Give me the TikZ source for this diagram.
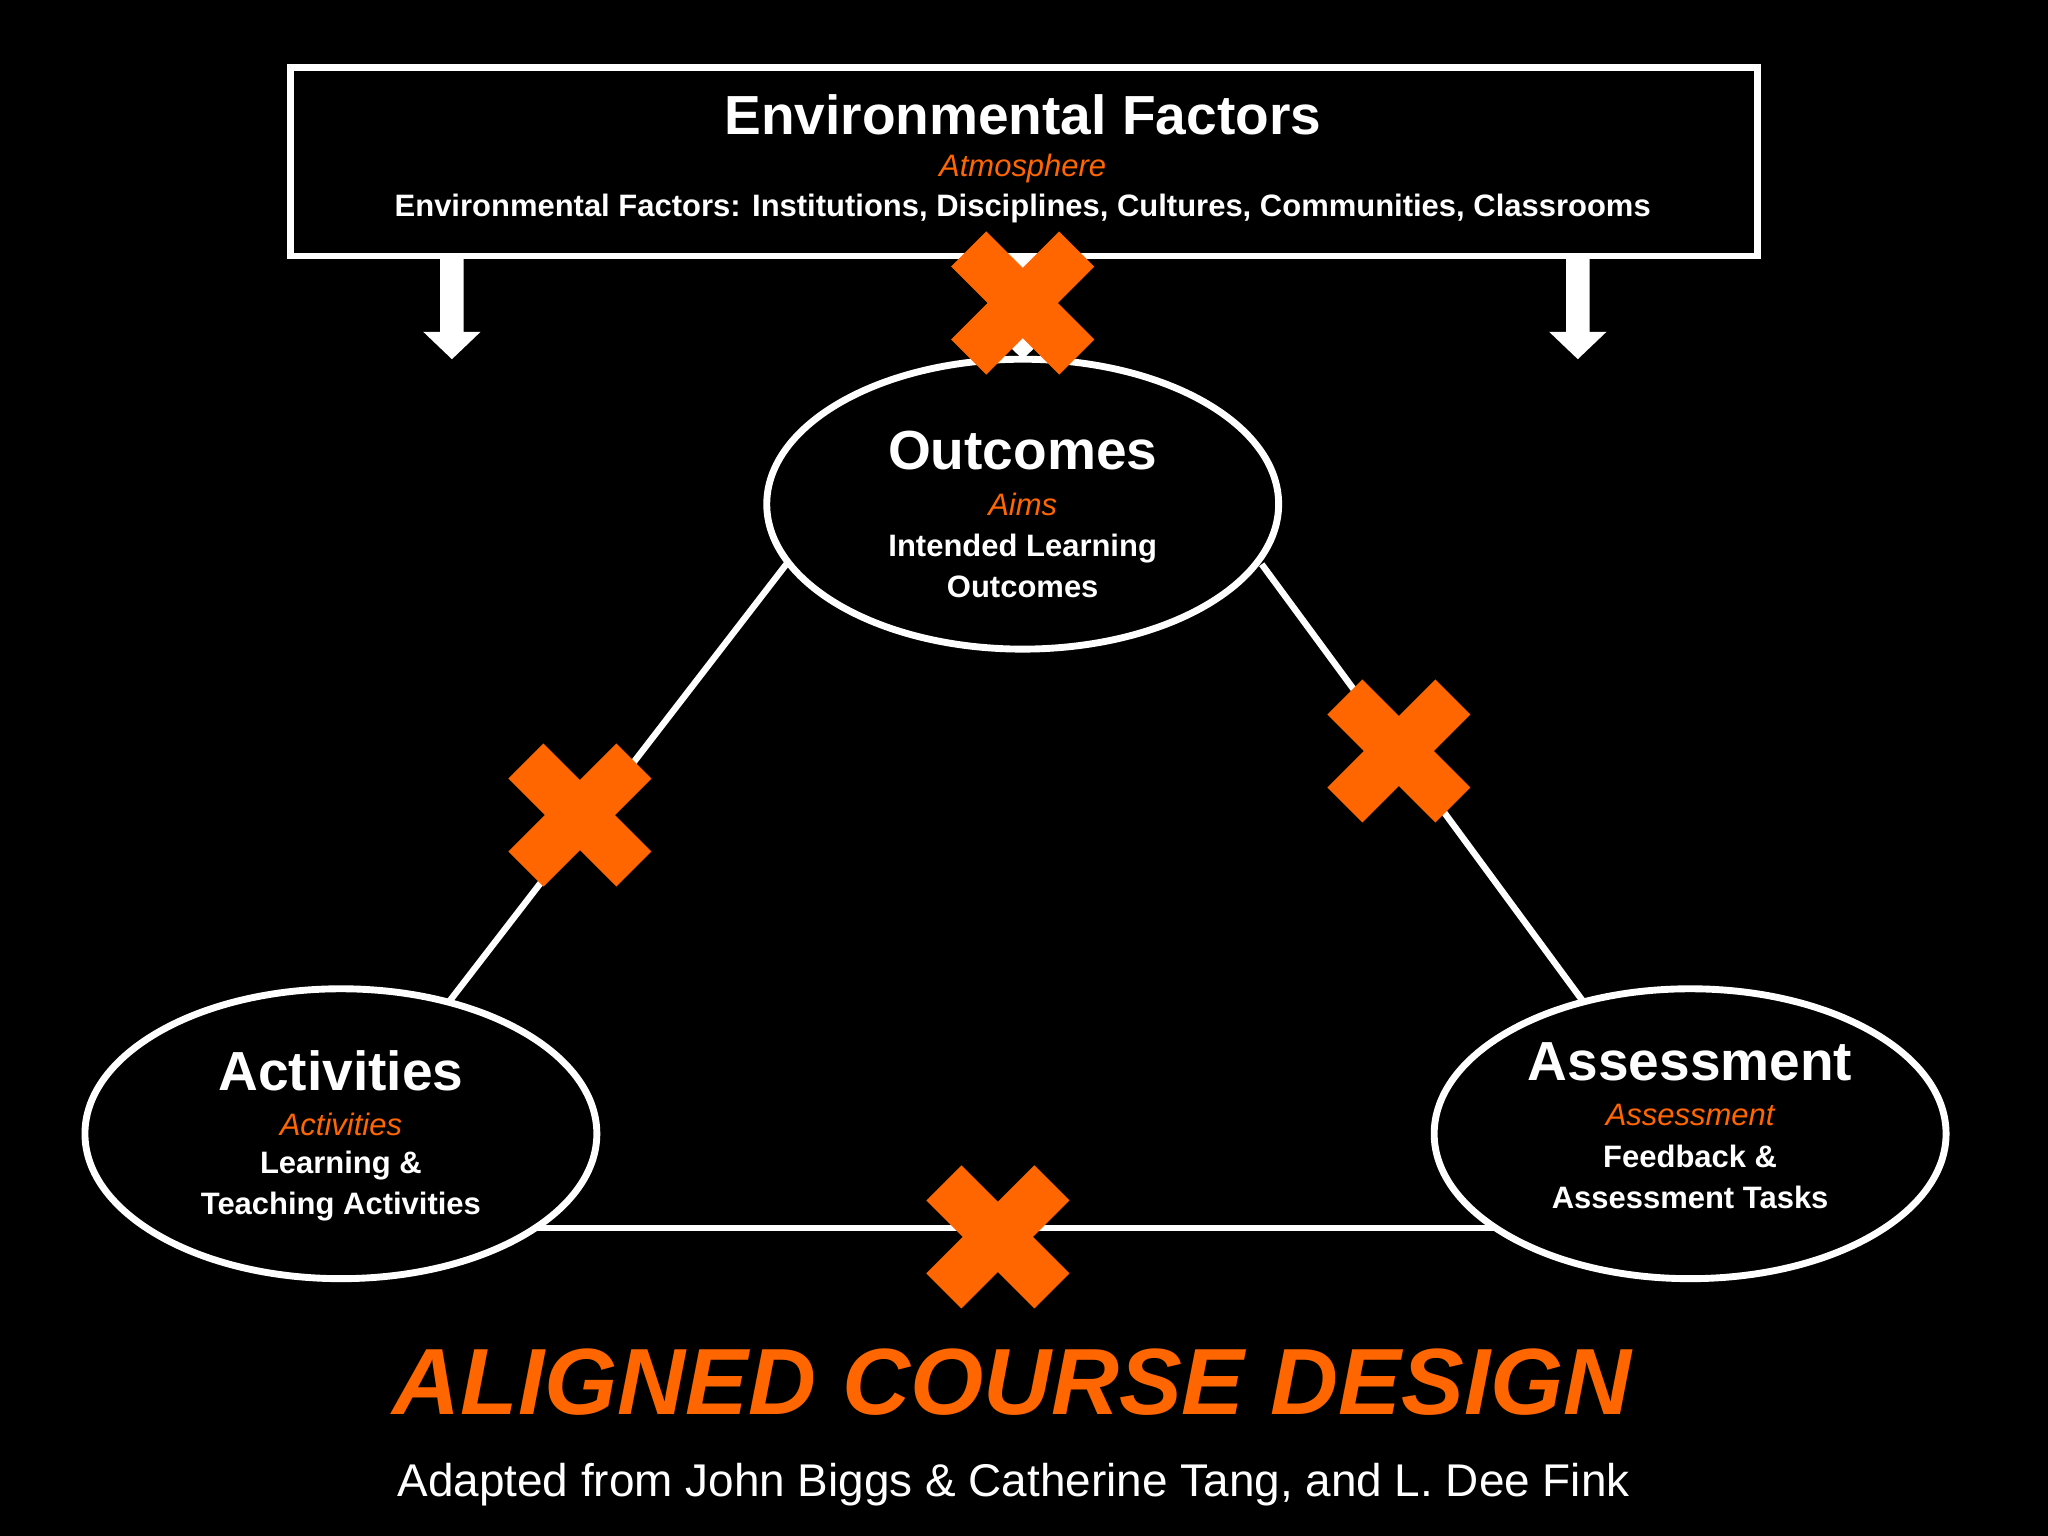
\documentclass[tikz,border=0pt]{standalone}
\usepackage{fontspec}
\setmainfont{Liberation Sans}
\definecolor{org}{HTML}{FF6600}
\begin{document}
\begin{tikzpicture}[x=0.02cm,y=-0.02cm,
  lin/.style={draw=white,line width=2.8pt},
  ell/.style={ellipse,draw=white,line width=3pt,fill=black,minimum width=7.84cm,minimum height=4.44cm,align=center,text=white,font=\bfseries\fontsize{13.5}{17.5}\selectfont},
  xbar/.style={fill=org,minimum width=2.34cm,minimum height=0.76cm,inner sep=0pt},
  ttl/.style={font=\bfseries\fontsize{24}{26}\selectfont},
  sub/.style={text=org,font=\itshape\fontsize{13.5}{17.5}\selectfont},
  barrow/.style={fill=white}]
\useasboundingbox[fill=black] (0,0) rectangle (1568,1176);
\usetikzlibrary{shapes.geometric}
% box
\node[draw=white,line width=3pt,fill=black,minimum width=22.48cm,minimum height=2.88cm,inner sep=0pt] (env) at (784,124) {};
\node[text=white,ttl] (envt) at (783,88) {Environmental Factors};
\node[sub] (atm) at (783,129) {Atmosphere};
\node[text=white,font=\bfseries\fontsize{13.5}{16}\selectfont] (envl) at (783,160) {Environmental Factors: Institutions, Disciplines, Cultures, Communities, Classrooms};
% arrows
\foreach \ax/\nm in {346/a1,1208/a2,783/a3}{
  \fill[barrow] (\ax-9,198) -- (\ax+9,198) -- (\ax+9,254) -- (\ax+22,254) -- (\ax,275) -- (\ax-22,254) -- (\ax-9,254) -- cycle;
}
% connectors
\coordinate (o1) at (602,432); \coordinate (c1) at (343,768);
\coordinate (o2) at (966,432); \coordinate (s1) at (1213,768);
\coordinate (c2) at (410,940); \coordinate (s2) at (1148,940);
\draw[lin] (o1) -- (c1);
\draw[lin] (o2) -- (s1);
\draw[lin] (c2) -- (s2);
% ellipses
\node[ell] (out) at (783,386) {};
\node[text=white,ttl] at (783,345) {Outcomes};
\node[sub] at (783,386) {Aims};
\node[text=white,align=center,font=\bfseries\fontsize{13.5}{17.8}\selectfont] at (783,433) {Intended Learning\\Outcomes};
\node[ell] (act) at (261,868) {};
\node[text=white,ttl] at (261,820) {Activities};
\node[sub] at (261,861) {Activities};
\node[text=white,align=center,font=\bfseries\fontsize{13.5}{17.8}\selectfont] at (261,908) {Learning \&\\Teaching Activities};
\node[ell] (ass) at (1294,868) {};
\node[text=white,ttl] at (1294,813) {Assessment};
\node[sub] at (1294,854) {Assessment};
\node[text=white,align=center,font=\bfseries\fontsize{13.5}{17.8}\selectfont] at (1294,901) {Feedback \&\\Assessment Tasks};
% crosses
\foreach \cx/\cy/\nm in {783/232/x1,444/624/x2,1071/575/x3,764/947/x4}{
  \node[xbar,rotate=45] (\nm a) at (\cx,\cy) {};
  \node[xbar,rotate=-45] (\nm b) at (\cx,\cy) {};
}
\node[text=org,font=\bfseries\itshape\fontsize{41}{44}\selectfont] (title) at (775,1058) {ALIGNED COURSE DESIGN};
\node[text=white,font=\fontsize{20}{22}\selectfont] (cred) at (776,1137) {Adapted from John Biggs \& Catherine Tang, and L. Dee Fink};
\end{tikzpicture}
\end{document}
